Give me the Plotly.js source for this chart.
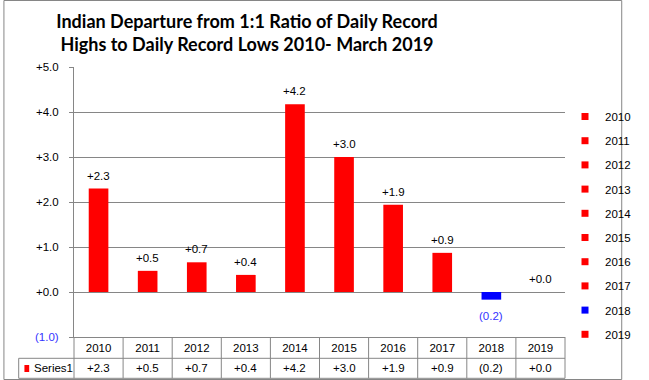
<!DOCTYPE html>
<html>
<head>
<meta charset="utf-8">
<script src="https://cdn.plot.ly/plotly-3.0.1.min.js"></script>
<style>html,body{margin:0;padding:0;background:#fff;}#chart{width:649px;height:380px;}</style>
</head>
<body>
<div id="chart"></div>
<script>
// ---- data ----
const years = ["2010","2011","2012","2013","2014","2015","2016","2017","2018","2019"];
const values = [2.3, 0.47, 0.66, 0.38, 4.17, 3.0, 1.94, 0.87, -0.17, 0.0];
const barColors = ["#FF0000","#FF0000","#FF0000","#FF0000","#FF0000","#FF0000","#FF0000","#FF0000","#0000FF","#FF0000"];
const yTickVals = [-1, 0, 1, 2, 3, 4, 5];
const yTickText = ["<span style='color:#3333FF'>(1.0)</span>", "+0.0", "+1.0", "+2.0", "+3.0", "+4.0", "+5.0"];
const seriesName = "Series1";
const titleText = "Indian Departure from 1:1 Ratio of Daily Record<br>Highs to Daily Record Lows 2010- March 2019";

// ---- layout helpers ----
const W = 649, H = 380;
const M = {l: 74, r: 60, t: 67, b: 43};
const PW = W - M.l - M.r, PH = H - M.t - M.b;
const px2x = p => (p - M.l) / PW;
const py2y = p => (H - M.b - p) / PH;
const GRID = "#868686";
const FONT = "Liberation Sans, Arial, sans-serif";

function fmt(v) {
  const a = Math.abs(v).toFixed(1);
  return v < 0 ? "(" + a + ")" : "+" + a;
}

const traces = [];
traces.push({
  type: "bar",
  x: years,
  y: values,
  width: 0.4,
  marker: {color: barColors, line: {width: 0}},
  showlegend: false,
  hoverinfo: "skip"
});
years.forEach((yr, i) => {
  traces.push({
    type: "scatter",
    mode: "markers",
    x: [yr],
    y: [null],
    name: yr,
    legendgroup: yr,
    marker: {symbol: "square", size: 7, color: barColors[i]},
    hoverinfo: "skip"
  });
});

const shapes = [];
const line = {color: GRID, width: 1};
// table horizontal lines
[358.3, 378.3].forEach(p => {
  shapes.push({type: "line", xref: "paper", yref: "paper", x0: px2x(16), x1: 1, y0: py2y(p), y1: py2y(p), line});
});
// table vertical lines
for (let i = 0; i <= years.length; i++) {
  shapes.push({type: "line", xref: "paper", yref: "paper", x0: i / years.length, x1: i / years.length, y0: 0, y1: py2y(378.3), line});
}
shapes.push({type: "line", xref: "paper", yref: "paper", x0: px2x(16), x1: px2x(16), y0: py2y(358.3), y1: py2y(378.3), line});
// series key square
shapes.push({type: "rect", xref: "paper", yref: "paper", x0: px2x(22), x1: px2x(27), y0: py2y(372), y1: py2y(365), fillcolor: "#FF0000", line: {width: 0}});
// outer border
shapes.push({type: "rect", xref: "paper", yref: "paper", x0: px2x(0.5), x1: px2x(648.5), y0: py2y(379.5), y1: py2y(0.5), line: {color: GRID, width: 1}, fillcolor: "rgba(0,0,0,0)"});

const annotations = [];
// data labels on bars
values.forEach((v, i) => {
  annotations.push({
    x: i, xref: "x", y: v, yref: "y",
    text: fmt(v), showarrow: false, xanchor: "center",
    yanchor: v < 0 ? "top" : "bottom", yshift: v < 0 ? -8 : 5,
    font: {family: FONT, size: 11.5, color: v < 0 ? "#3333FF" : "#000"}
  });
});
// data table values row
values.forEach((v, i) => {
  annotations.push({
    x: i, xref: "x", y: py2y(368.3), yref: "paper",
    text: fmt(v), showarrow: false, xanchor: "center", yanchor: "middle",
    font: {family: FONT, size: 11.5, color: "#000"}
  });
});
annotations.push({
  x: px2x(30), xref: "paper", y: py2y(368.3), yref: "paper",
  text: seriesName, showarrow: false, xanchor: "left", yanchor: "middle",
  font: {family: FONT, size: 11.5, color: "#000"}
});

const layout = {
  width: W, height: H,
  margin: M,
  paper_bgcolor: "#fff", plot_bgcolor: "#fff",
  font: {family: FONT, size: 11.5, color: "#000"},
  title: {
    text: titleText,
    font: {family: "Lato, sans-serif", size: 18, weight: 700, color: "#000"},
    x: 247 / W, xref: "container", xanchor: "center",
    y: 1 - 28 / H, yref: "container", yanchor: "top"
  },
  xaxis: {
    type: "category",
    range: [-0.5, years.length - 0.5], autorange: false,
    showline: true, linecolor: GRID, linewidth: 1,
    showgrid: false, ticks: "", zeroline: false,
    tickfont: {family: FONT, size: 11.5, color: "#000"},
    fixedrange: true
  },
  yaxis: {
    range: [-1, 5], autorange: false,
    tickvals: yTickVals, ticktext: yTickText,
    showgrid: true, gridcolor: GRID, gridwidth: 1,
    showline: true, linecolor: GRID, linewidth: 1,
    ticks: "outside", ticklen: 4, tickcolor: GRID,
    zeroline: false, ticklabelstandoff: 8,
    tickfont: {family: FONT, size: 11.5, color: "#000"},
    fixedrange: true
  },
  legend: {
    orientation: "v",
    x: 1, xanchor: "left",
    y: py2y(102), yanchor: "top",
    font: {family: FONT, size: 11.5, color: "#000"},
    tracegroupgap: 5.2,
    bgcolor: "rgba(0,0,0,0)",
    traceorder: "grouped"
  },
  shapes, annotations,
  showlegend: true
};

Plotly.newPlot("chart", traces, layout, {displayModeBar: false, staticPlot: true});
</script>
</body>
</html>
